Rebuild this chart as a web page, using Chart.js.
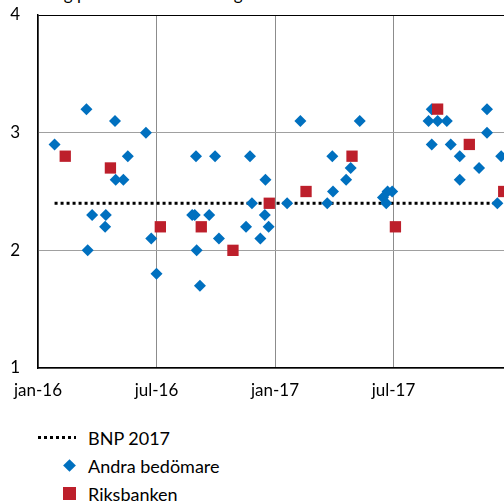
<!DOCTYPE html>
<html>
<head>
<meta charset="utf-8">
<script src="https://cdn.jsdelivr.net/npm/chart.js@4/dist/chart.umd.min.js"></script>
<style>
  html, body { margin: 0; padding: 0; background: #fff; }
  body { width: 504px; height: 502px; overflow: hidden; position: relative; font-family: Lato, 'Open Sans', sans-serif; }
  #unit { position: absolute; left: 38px; top: -17px; font-size: 17px; color: #000; white-space: nowrap; }
  #wrap { position: absolute; left: 0; top: 0; width: 530px; height: 410px; }
  #legend { position: absolute; left: 0; top: 424px; font-size: 18px; color: #000; }
  .row { position: relative; height: 28px; line-height: 28px; padding-left: 88px; white-space: nowrap; }
  .icon { position: absolute; }
</style>
</head>
<body>
<div id="unit">Årlig procentuell förändring</div>
<div id="wrap"><canvas id="gdp-chart"></canvas></div>
<div id="legend"></div>
<script>
// x axis tick labels, one every six months from jan-16
const tickLabels = ['jan-16', 'jul-16', 'jan-17', 'jul-17'];

// GDP forecast for 2017 (reference line)
const bnpDates = ['2016-01-27', '2018-01-01'];
const bnpValues = [2.4, 2.4];

// other forecasters
const andraDates = [
  '2016-01-27', '2016-03-15', '2016-03-17', '2016-03-24', '2016-04-13', '2016-04-14',
  '2016-04-28', '2016-04-29', '2016-05-11', '2016-05-18', '2016-06-15', '2016-06-23',
  '2016-07-01', '2016-08-26', '2016-08-30', '2016-09-01', '2016-09-02', '2016-09-07',
  '2016-09-21', '2016-09-30', '2016-10-06', '2016-11-17', '2016-11-23', '2016-11-26',
  '2016-12-09', '2016-12-16', '2016-12-17', '2016-12-22', '2017-01-20', '2017-02-09',
  '2017-03-21', '2017-03-29', '2017-03-30', '2017-04-19', '2017-04-26', '2017-05-10',
  '2017-06-15', '2017-06-20', '2017-06-22', '2017-06-29', '2017-08-25', '2017-08-30',
  '2017-08-30', '2017-09-08', '2017-09-22', '2017-09-28', '2017-10-12', '2017-10-12',
  '2017-11-11', '2017-11-23', '2017-11-23', '2017-12-09', '2017-12-15',
];
const andraValues = [
  2.9, 3.2, 2.0, 2.3, 2.2, 2.3,
  3.1, 2.6, 2.6, 2.8, 3.0, 2.1,
  1.8, 2.3, 2.3, 2.8, 2.0, 1.7,
  2.3, 2.8, 2.1, 2.2, 2.8, 2.4,
  2.1, 2.3, 2.6, 2.2, 2.4, 3.1,
  2.4, 2.8, 2.5, 2.6, 2.7, 3.1,
  2.45, 2.4, 2.5, 2.5, 3.1, 3.2,
  2.9, 3.1, 3.1, 2.9, 2.8, 2.6,
  2.7, 3.2, 3.0, 2.4, 2.8,
];

// Riksbanken's own forecasts
const riksDates = [
  '2016-02-12', '2016-04-21', '2016-07-07', '2016-09-09', '2016-10-28', '2016-12-23',
  '2017-02-17', '2017-04-28', '2017-07-04', '2017-09-08', '2017-10-27', '2017-12-19',
];
const riksValues = [2.8, 2.7, 2.2, 2.2, 2.0, 2.4, 2.5, 2.8, 2.2, 3.2, 2.9, 2.5];

const BLUE = '#0070bf';
const RED = '#bd1f2b';

// months since jan-16, with the day as a fraction of the month
function monthPos(str) {
  const [y, m, d] = str.split('-').map(Number);
  const days = new Date(y, m, 0).getDate();
  return (y - 2016) * 12 + (m - 1) + (d - 1) / days;
}

const toPoints = (dates, values) => dates.map((d, i) => ({ x: monthPos(d), y: values[i] }));

const chartData = {
  datasets: [
    {
      label: 'BNP 2017',
      type: 'line',
      data: toPoints(bnpDates, bnpValues),
      borderColor: '#000',
      borderWidth: 3,
      borderDash: [3, 3],
      pointRadius: 0,
      order: 3,
    },
    {
      label: 'Andra bedömare',
      data: toPoints(andraDates, andraValues),
      backgroundColor: BLUE,
      borderColor: BLUE,
      borderWidth: 0,
      pointStyle: 'rectRot',
      pointRadius: 6,
      order: 2,
    },
    {
      label: 'Riksbanken',
      data: toPoints(riksDates, riksValues),
      backgroundColor: RED,
      borderColor: RED,
      borderWidth: 0,
      pointStyle: 'rect',
      pointRadius: 8,
      order: 1,
    },
  ],
};

const font = { family: 'Lato', size: 17 };

const config = {
  type: 'scatter',
  data: chartData,
  options: {
    responsive: true,
    maintainAspectRatio: false,
    animation: false,
    layout: { padding: { top: 15, right: 18, left: 0, bottom: 0 } },
    scales: {
      x: {
        type: 'linear',
        min: 0,
        max: 24,
        afterFit: s => { s.height = 42; },
        afterBuildTicks: s => {
          // one tick every half year
          s.ticks = [0, 6, 12, 18, 24].map(v => ({ value: v }));
        },
        ticks: {
          padding: 12,
          color: '#000',
          font,
          maxRotation: 0,
          autoSkip: false,
          callback: (value) => tickLabels[value / 6] || '',
        },
        grid: {
          drawTicks: false,
          color: ctx => (ctx.tick && ctx.tick.value === 24 ? '#000' : '#8c8c8c'),
        },
        border: { color: '#000', width: 1.5 },
      },
      y: {
        min: 1,
        max: 4,
        afterFit: s => {
          // keep the wide label gap from pushing the plot down
          s.width = 38;
          s.paddingTop = 0;
          s.paddingBottom = 0;
        },
        ticks: {
          stepSize: 1,
          padding: 18,
          color: '#000',
          font,
        },
        grid: {
          drawTicks: false,
          color: ctx => (ctx.tick && ctx.tick.value === 4 ? '#000' : '#a0a0a0'),
        },
        border: { color: '#000', width: 1.5 },
      },
    },
    plugins: {
      legend: { display: false },
      tooltip: { enabled: false },
    },
  },
};

const chart = new Chart(document.querySelector('#gdp-chart'), config);

// legend below the chart, one row per dataset
const legendEl = document.querySelector('#legend');
chart.data.datasets.forEach(ds => {
  const row = document.createElement('div');
  row.className = 'row';
  const icon = document.createElement('span');
  icon.className = 'icon';
  if (ds.type === 'line') {
    icon.style.left = '38px';
    icon.style.top = '12px';
    icon.style.width = '38px';
    icon.style.height = '3px';
    icon.style.background = 'repeating-linear-gradient(90deg, #000 0 3px, transparent 3px 6px)';
  } else if (ds.pointStyle === 'rectRot') {
    icon.style.left = '65px';
    icon.style.top = '9px';
    icon.style.width = '9px';
    icon.style.height = '9px';
    icon.style.background = ds.backgroundColor;
    icon.style.transform = 'rotate(45deg)';
  } else {
    icon.style.left = '63px';
    icon.style.top = '7px';
    icon.style.width = '13px';
    icon.style.height = '13px';
    icon.style.background = ds.backgroundColor;
  }
  row.appendChild(icon);
  row.appendChild(document.createTextNode(ds.label));
  legendEl.appendChild(row);
});
</script>
</body>
</html>
